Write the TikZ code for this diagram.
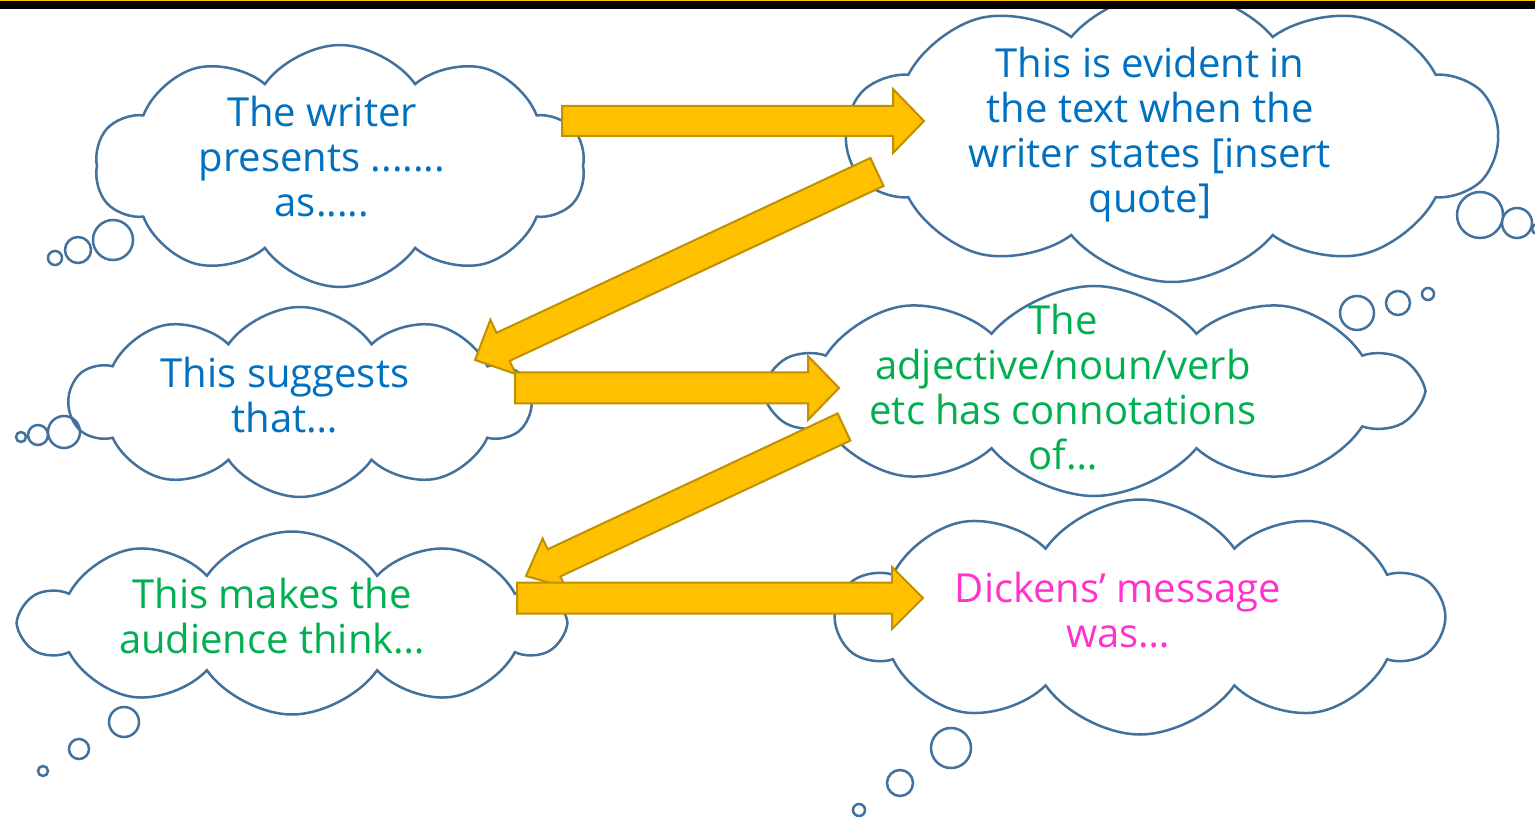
\documentclass[tikz,border=0pt]{standalone}
\usepackage{fontspec}
\setmainfont{Open Sans}
\usetikzlibrary{shapes.symbols}
\usetikzlibrary{calc}

\definecolor{cloudline}{RGB}{65,113,156}
\definecolor{arrowfill}{RGB}{255,192,0}
\definecolor{arrowline}{RGB}{191,144,0}
\definecolor{textblue}{RGB}{0,112,192}
\definecolor{textgreen}{RGB}{0,176,80}
\definecolor{textpink}{RGB}{255,51,204}

% block arrow from #1 to #2, half shaft #3, half head #4
\newcommand{\blockarrow}[4]{
	\coordinate (#1-base) at ($(#2)!31pt!(#1)$);
	\draw[bigarrow] ($(#1)!#3!90:(#2)$) -- ($(#1-base)!#3!-90:(#1)$) -- ($(#1-base)!#4!-90:(#1)$) -- (#2)
		-- ($(#1-base)!#4!90:(#1)$) -- ($(#1-base)!#3!90:(#1)$) -- ($(#1)!#3!-90:(#2)$) -- cycle;
}

\begin{document}
\begin{tikzpicture}[x=1pt,y=-1pt,every node/.style={inner sep=0pt},thought/.style={cloud,cloud puffs=10,cloud puff arc=110,cloud ignores aspect,draw=cloudline,fill=white,line width=2.5pt},bubble/.style={draw=cloudline,line width=2.5pt},bigarrow/.style={fill=arrowfill,draw=arrowline,line width=2pt,line join=miter},words/.style={align=center,font=\fontsize{40}{45}\selectfont}]
	
	\useasboundingbox (0,0) rectangle (1535,818);
	
	% clouds
	\node[thought,minimum width=490pt,minimum height=242pt] (writer) at (340,166) {};
	\node[thought,cloud puff arc=100,minimum width=650pt,minimum height=292pt] (evident) at (1172,136) {};
	\node[thought,minimum width=460pt,minimum height=190pt] (suggests) at (300,402) {};
	\node[thought,cloud puff arc=100,minimum width=648pt,minimum height=210pt] (connote) at (1094,391) {};
	\node[thought,minimum width=540pt,minimum height=183pt] (audience) at (292,623) {};
	\node[thought,minimum width=604pt,minimum height=235pt] (message) at (1140,617) {};
	
	% top bar
	\fill (0,0) rectangle (1535,9);
	\fill[arrowfill] (0,0) rectangle (1535,1.5);
	
	% thought bubbles
	\draw[bubble] (113,240) circle (20pt) (78,250) circle (13pt) (55,258) circle (7pt);
	\draw[bubble] (1480,215) circle (23pt) (1517,223) circle (15pt) (1537,229) circle (5pt);
	\draw[bubble] (64,432) circle (16pt) (38,435) circle (10pt) (21,437) circle (5pt);
	\draw[bubble] (1357,313) circle (17pt) (1398,303) circle (12pt) (1428,294) circle (6pt);
	\draw[bubble] (124,722) circle (15pt) (79,749) circle (10pt) (43,771) circle (5pt);
	\draw[bubble] (951,748) circle (20pt) (900,783) circle (13pt) (859,810) circle (6pt);
	
	% arrows
	\coordinate (a1) at (562,121);
	\coordinate (a1e) at (924,121);
	\coordinate (a2) at (877,172);
	\coordinate (a2e) at (475,360);
	\coordinate (a3) at (515,388);
	\coordinate (a3e) at (839,388);
	\coordinate (a4) at (844,427);
	\coordinate (a4e) at (526,576);
	\coordinate (a5) at (517,598);
	\coordinate (a5e) at (923,598);
	\blockarrow{a1}{a1e}{15pt}{32pt}
	\blockarrow{a2}{a2e}{15.5pt}{30pt}
	\blockarrow{a3}{a3e}{15.5pt}{32pt}
	\blockarrow{a4}{a4e}{15pt}{27pt}
	\blockarrow{a5}{a5e}{15.5pt}{31pt}
	
	% texts
	\node[words,text=textblue] (writertext) at (322,157) {The writer\\presents .......\\as.....};
	\node[words,text=textblue] (evidenttext) at (1150,135) {This is evident in\\the text when the\\writer states [insert\\quote]};
	\node[words,text=textblue] (suggeststext) at (285,395) {This suggests\\that…};
	\node[words,text=textgreen] (connotetext) at (1063,387) {The\\adjective/noun/verb\\etc has connotations\\of…};
	\node[words,text=textgreen] (audiencetext) at (272,616) {This makes the\\audience think…};
	\node[words,text=textpink] (messagetext) at (1118,610) {Dickens’ message\\was…};
	
\end{tikzpicture}
\end{document}
